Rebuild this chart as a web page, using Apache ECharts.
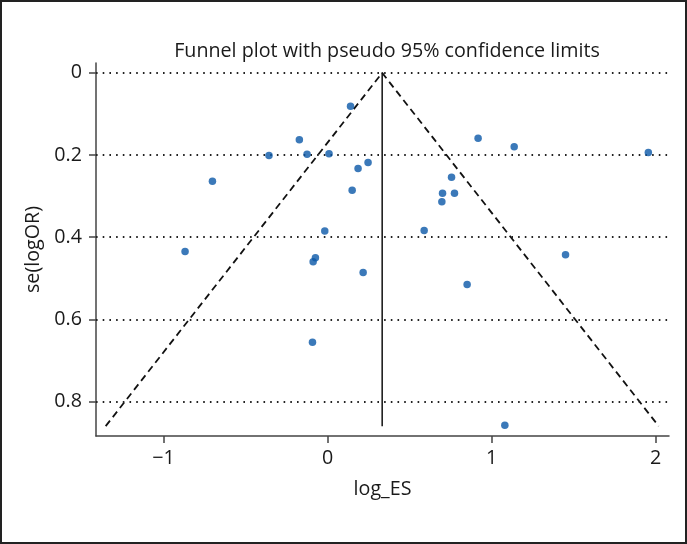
<!DOCTYPE html>
<html><head><meta charset="utf-8">
<script src="https://cdn.jsdelivr.net/npm/echarts@6/dist/echarts.min.js"></script>
<style>html,body{margin:0;padding:0;background:#fff}#c{width:687px;height:544px}</style>
</head><body><div id="c"></div>
<script>
// Study points: effect size (log_ES) and standard error (se(logOR))
const logES = [0.140,-0.172,-0.357,-0.125,0.009,-0.702,0.186,0.247,0.150,-0.017,0.918,1.138,1.956,0.756,0.701,0.774,0.697,0.589,-0.869,-0.074,-0.088,0.217,-0.092,0.851,1.451,1.081];
const seLogOR = [0.081,0.163,0.201,0.198,0.197,0.264,0.233,0.218,0.286,0.385,0.159,0.180,0.194,0.254,0.293,0.293,0.314,0.384,0.435,0.450,0.460,0.486,0.656,0.515,0.443,0.858];
// Funnel (pooled estimate and pseudo 95% limits)
const pooledLine = [[0.333,0],[0.333,0.86]];
const funnelLimits = [[-1.353,0.86],[0.333,0],[2.019,0.86]];
// Axis ticks
const xTicks = [-1,0,1,2];
const yTicks = [0,0.2,0.4,0.6,0.8];
const titleText = 'Funnel plot with pseudo 95% confidence limits';

const FONT = '"Open Sans", "Noto Sans", sans-serif';
const TXT = '#1a1a1a';
const FS = 19.7;
const chart = echarts.init(document.getElementById('c'), null, {renderer:'canvas'});
const pts = logES.map((x,i)=>[x, seLogOR[i]]);
chart.setOption({
  animation:false,
  backgroundColor:'#fff',
  title:{text:titleText,left:382,textAlign:'center',top:36,textStyle:{fontFamily:FONT,fontWeight:'normal',fontSize:FS,color:TXT}},
  grid:{left:96,right:18,top:63,bottom:108,containLabel:false},
  xAxis:{type:'value',min:-1.412,max:2.082,
    name:'log_ES',nameLocation:'middle',nameGap:43,nameTextStyle:{fontFamily:FONT,fontSize:FS,color:TXT},
    axisLine:{onZero:false,lineStyle:{color:'#444',width:1.5}},
    axisTick:{show:true,length:7,lineStyle:{color:'#444',width:1.5},customValues:xTicks},
    axisLabel:{customValues:xTicks,margin:12,fontFamily:FONT,fontSize:FS,color:TXT,formatter:v=>String(v).replace('-','\u2212')},
    splitLine:{show:false}},
  yAxis:{type:'value',inverse:true,min:-0.024,max:0.884,
    name:'se(logOR)',nameLocation:'middle',nameGap:52,nameRotate:90,nameTextStyle:{fontFamily:FONT,fontSize:FS,color:TXT},
    axisLine:{show:true,onZero:false,lineStyle:{color:'#444',width:1.5}},
    axisTick:{show:true,length:7,lineStyle:{color:'#444',width:1.5},customValues:yTicks},
    axisLabel:{customValues:yTicks,margin:14,fontFamily:FONT,fontSize:FS,color:TXT,formatter:v=>String(v)},
    splitLine:{show:false}},
  series:[
    {type:'line',data:funnelLimits,symbol:'none',lineStyle:{color:'#111',width:1.8,type:[7,4.5]},silent:true,z:2,
     markLine:{symbol:'none',silent:true,label:{show:false},lineStyle:{color:'#222',width:1.8,type:[1.6,5.1]},
       data:yTicks.map(v=>({yAxis:v}))}},
    {type:'line',data:pooledLine,symbol:'none',lineStyle:{color:'#111',width:1.5},silent:true,z:2},
    {type:'scatter',data:pts,symbolSize:7.5,itemStyle:{color:'#0a58a8'},z:5}
  ],
  graphic:[{type:'rect',shape:{x:1,y:1,width:685,height:542},style:{fill:'none',stroke:'#222',lineWidth:2},silent:true,z:100}]
});
</script></body></html>
